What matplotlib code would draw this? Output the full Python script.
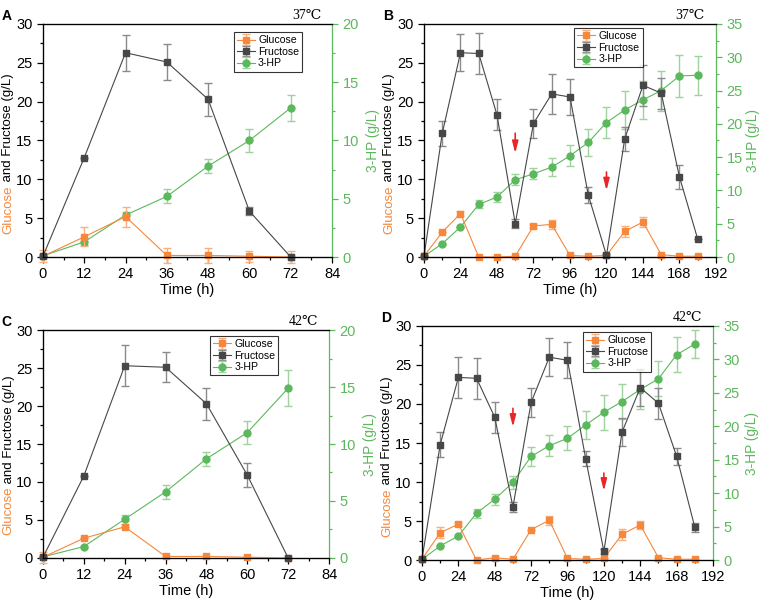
import numpy as np
import matplotlib
matplotlib.use("Agg")
import matplotlib.pyplot as plt
from matplotlib.ticker import MultipleLocator

plt.rcParams['font.family'] = ['Liberation Sans', 'DejaVu Sans']

ORANGE = '#F7873A'
GRAY = '#474747'
GREEN = '#5CB85C'

# ---- data ----
t_batch = [0, 12, 24, 36, 48, 60, 72]
t_fed = [0, 12, 24, 36, 48, 60, 72, 84, 96, 108, 120, 132, 144, 156, 168, 180]

# A: 37 C batch
a_glu = [0.1, 2.6, 5.2, 0.2, 0.2, 0.1, 0.0]
a_glu_err = [0.8, 1.2, 1.3, 1.0, 1.0, 0.7, 0.8]
a_fru = [0.1, 12.8, 26.3, 25.1, 20.3, 5.9, 0.0]
a_fru_err = [0, 0, 2.3, 2.3, 2.1, 0.5, 0]
a_hp = [0.1, 1.3, 3.6, 5.2, 7.8, 10.0, 12.8]
a_hp_err = [0, 0.3, 0.3, 0.6, 0.6, 1.0, 1.1]

# B: 37 C fed-batch
b_glu = [0.1, 3.2, 5.6, 0.0, 0.0, 0.1, 4.0, 4.2, 0.2, 0.1, 0.2, 3.3, 4.5, 0.3, 0.1, 0.1]
b_glu_err = [0, 0, 0.3, 0, 0, 0, 0.3, 0.6, 0, 0, 0, 0.7, 0.6, 0, 0, 0]
b_fru = [0.1, 15.9, 26.3, 26.2, 18.3, 4.3, 17.2, 21.0, 20.6, 8.0, 0.2, 15.2, 22.1, 21.1, 10.3, 2.3]
b_fru_err = [0, 1.6, 2.4, 2.6, 2.0, 0.6, 1.9, 2.6, 2.3, 1.0, 0.2, 1.5, 2.6, 2.0, 1.6, 0]
b_hp = [0.1, 2.0, 4.5, 7.9, 9.0, 11.6, 12.5, 13.5, 15.2, 17.2, 20.2, 22.1, 23.6, 25.0, 27.2, 27.3]
b_hp_err = [0, 0, 0, 0.6, 0.7, 0.8, 0.8, 1.4, 1.6, 2.0, 2.4, 2.8, 2.9, 3.0, 3.1, 2.9]

# C: 42 C batch
c_glu = [0.1, 2.6, 4.1, 0.2, 0.2, 0.1, 0.0]
c_glu_err = [0.7, 0, 0, 0, 0, 0, 0]
c_fru = [0.1, 10.8, 25.3, 25.1, 20.3, 10.9, 0.0]
c_fru_err = [0, 0, 2.7, 2.0, 2.1, 1.6, 0]
c_hp = [0.1, 1.0, 3.4, 5.8, 8.7, 11.0, 14.9]
c_hp_err = [0, 0, 0.4, 0.6, 0.6, 1.0, 1.6]

# D: 42 C fed-batch
d_glu = [0.1, 3.5, 4.6, 0.0, 0.3, 0.1, 3.9, 5.1, 0.2, 0.1, 0.2, 3.3, 4.5, 0.3, 0.1, 0.1]
d_glu_err = [0, 0.7, 0.3, 0, 0, 0, 0, 0.6, 0, 0, 0, 0.7, 0.5, 0, 0, 0]
d_fru = [0.1, 14.8, 23.4, 23.3, 18.3, 6.8, 20.2, 26.0, 25.6, 13.0, 1.1, 16.4, 22.1, 20.1, 13.3, 4.2]
d_fru_err = [0, 1.6, 2.6, 2.6, 2.0, 0.6, 1.9, 2.4, 2.3, 1.0, 0.3, 1.8, 2.4, 2.0, 1.1, 0.6]
d_hp = [0.1, 2.1, 3.6, 7.0, 9.1, 11.6, 15.5, 17.1, 18.2, 20.2, 22.1, 23.7, 25.5, 27.1, 30.7, 32.3]
d_hp_err = [0, 0, 0, 0.7, 0.8, 1.0, 1.4, 1.6, 1.8, 2.1, 2.6, 2.6, 2.9, 2.6, 2.6, 2.1]

# feeding arrows (time, top, bottom) in g/L of left axis
b_arrows = [(60, 16.3, 13.0), (120, 11.3, 8.2)]
d_arrows = [(60, 19.8, 16.7), (120, 11.5, 8.5)]

fig = plt.figure(figsize=(7.62, 6.04), dpi=100)


def panel(rect, t, glu, glu_e, fru, fru_e, hp, hp_e, xmax, xstep, hpmax,
          temp, letter, leg_anchor, arrows=(), rpad=5):
    ax = fig.add_axes(rect)
    ax2 = ax.twinx()
    ax.set_zorder(ax2.get_zorder() + 1)
    ax.patch.set_visible(False)

    lw = 0.8
    ax2.errorbar(t, hp, yerr=hp_e, color=GREEN, marker='o', ms=5, lw=lw,
                 ecolor='#9ED39E', elinewidth=1, capsize=3, clip_on=False,
                 label='3-HP')
    ax.errorbar(t, glu, yerr=glu_e, color=ORANGE, marker='s', ms=4.5, lw=lw,
                ecolor='#F9B07A', elinewidth=1, capsize=3, clip_on=False,
                label='Glucose')
    ax.errorbar(t, fru, yerr=fru_e, color=GRAY, marker='s', ms=4.5, lw=lw,
                ecolor='#8A8A8A', elinewidth=1, capsize=3, clip_on=False,
                label='Fructose')

    for x, y0, y1 in arrows:
        ax.annotate('', xy=(x, y1), xytext=(x, y0),
                    arrowprops=dict(arrowstyle='-|>,head_width=0.18,head_length=0.7',
                                    color='#E8262A', lw=1.2))

    ax.set_xlim(0, xmax)
    ax.set_ylim(0, 30)
    ax2.set_ylim(0, hpmax)
    ax.xaxis.set_major_locator(MultipleLocator(xstep))
    ax.xaxis.set_minor_locator(MultipleLocator(xstep / 2))
    ax.yaxis.set_major_locator(MultipleLocator(5))
    ax.yaxis.set_minor_locator(MultipleLocator(2.5))
    ax2.yaxis.set_major_locator(MultipleLocator(5))
    ax2.yaxis.set_minor_locator(MultipleLocator(2.5))

    ax.tick_params(which='both', direction='out', labelsize=10.5, width=0.9)
    ax.tick_params(which='major', length=4)
    ax.tick_params(which='minor', length=2)
    ax2.tick_params(which='both', direction='out', labelsize=10.5, width=0.9,
                    colors=GREEN)
    ax2.tick_params(which='major', length=4)
    ax2.tick_params(which='minor', length=2)
    for s in ax.spines.values():
        s.set_linewidth(0.9)
    ax2.spines['right'].set_color(GREEN)
    ax2.spines['right'].set_linewidth(0.9)
    ax.spines['right'].set_visible(False)

    ax.set_xlabel('Time (h)', fontsize=10.5, labelpad=1)
    ax2.set_ylabel('3-HP (g/L)', fontsize=9.8, color=GREEN, labelpad=rpad)

    # two-colour left label
    t1 = ax.text(-0.12, 0.10, 'Glucose', transform=ax.transAxes, rotation=90,
                 ha='center', va='bottom', fontsize=9.5, color=ORANGE)
    ax.annotate(' and Fructose (g/L)', xy=(0.5, 1), xycoords=t1,
                rotation=90, ha='center', va='bottom', fontsize=9.5,
                color='black')

    ax.text(0.962, 1.008, temp, transform=ax.transAxes, ha='right',
            va='bottom', fontsize=10, family=['Liberation Serif', 'DejaVu Serif'])

    h1, l1 = ax.get_legend_handles_labels()
    h2, l2 = ax2.get_legend_handles_labels()
    leg = ax.legend(h1 + h2, l1 + l2, loc='upper left', bbox_to_anchor=leg_anchor,
                    fontsize=7.6, frameon=True, fancybox=False, edgecolor='black',
                    handlelength=1.7, handletextpad=0.3, borderpad=0.3,
                    labelspacing=0.15, borderaxespad=0)
    leg.get_frame().set_linewidth(0.8)

    fig.text(rect[0] - 0.054, rect[1] + rect[3] + 0.025, letter,
             fontsize=10, fontweight='bold', va='top')
    return ax


panel([0.0564, 0.5745, 0.3793, 0.3858], t_batch, a_glu, a_glu_err, a_fru,
      a_fru_err, a_hp, a_hp_err, 84, 12, 20, '37\u2103', 'A', (0.66, 0.965))
panel([0.5564, 0.5745, 0.3832, 0.3858], t_fed, b_glu, b_glu_err, b_fru,
      b_fru_err, b_hp, b_hp_err, 192, 24, 35, '37\u2103', 'B', (0.514, 0.983),
      b_arrows, rpad=2)
panel([0.0564, 0.0762, 0.3754, 0.3774], t_batch, c_glu, c_glu_err, c_fru,
      c_fru_err, c_hp, c_hp_err, 84, 12, 20, '42\u2103', 'C', (0.584, 0.974))
panel([0.5538, 0.0728, 0.3819, 0.3875], t_fed, d_glu, d_glu_err, d_fru,
      d_fru_err, d_hp, d_hp_err, 192, 24, 35, '42\u2103', 'D', (0.553, 0.974),
      d_arrows, rpad=4)

fig.savefig('out.png', dpi=100)
